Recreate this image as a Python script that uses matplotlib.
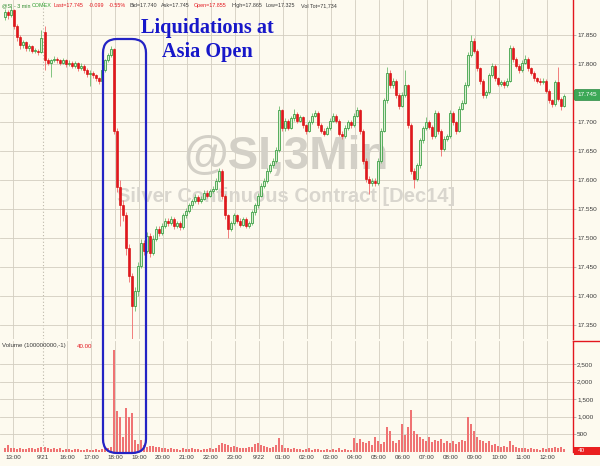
import numpy as np
import matplotlib
matplotlib.use('Agg')
import matplotlib.pyplot as plt
from matplotlib.patches import FancyBboxPatch
from matplotlib.lines import Line2D
from matplotlib.transforms import IdentityTransform

# @SI 3 min chart, bars shown every 7.5 min
# prices are thousandths above 17.000

fri_open0 = 880
fri_close = [889, 885, 892, 866, 847, 832, 837, 828, 830, 822, 823, 820, 844]
fri_high = [895, 893, 898, 894, 869, 850, 841, 840, 834, 833, 827, 826, 858]
fri_low = [876, 878, 880, 860, 840, 826, 828, 823, 822, 818, 818, 815, 818]
fri_vol = [110, 185, 120, 100, 90, 110, 80, 90, 100, 120, 90, 100, 140]

sun_open0 = 855
sun_close = [806, 802, 806, 809, 806, 802, 806, 799, 802, 796,
             801, 792, 797, 789, 782, 785, 780, 775, 771, 789,
             806, 815, 825, 685, 587, 556, 539, 482, 435, 383,
             409, 452, 492, 478, 504, 475, 499, 516, 509, 521,
             530, 526, 533, 521, 526, 519, 539, 547, 556, 564,
             571, 564, 568, 578, 573, 581, 585, 599, 616, 573,
             539, 516, 526, 539, 530, 523, 533, 521, 526, 544,
             556, 573, 590, 599, 616, 625, 633, 651, 720, 689,
             702, 690, 706, 714, 702, 708, 694, 685, 699, 711,
             716, 694, 685, 680, 689, 702, 711, 702, 680, 676,
             690, 699, 694, 711, 720, 685, 633, 602, 594, 599,
             595, 633, 685, 737, 785, 763, 771, 746, 728, 746,
             763, 694, 616, 602, 625, 668, 689, 699, 692, 676,
             716, 685, 654, 671, 676, 716, 699, 685, 723, 733,
             763, 815, 840, 823, 792, 771, 746, 751, 780, 797,
             775, 765, 768, 763, 771, 827, 809, 797, 789, 802,
             809, 792, 784, 775, 771, 768, 771, 754, 737, 731,
             768, 740, 728, 745]
sun_high = [866, 810, 809, 813, 812, 809, 810, 809, 806, 805,
            805, 804, 801, 800, 792, 789, 788, 783, 778, 792,
            809, 819, 830, 828, 690, 600, 565, 545, 490, 440,
            415, 458, 498, 496, 510, 508, 505, 521, 520, 526,
            535, 534, 538, 536, 530, 529, 543, 551, 560, 568,
            576, 574, 572, 582, 582, 585, 590, 603, 620, 619,
            576, 542, 530, 543, 542, 534, 537, 536, 530, 548,
            560, 577, 594, 604, 620, 630, 638, 656, 728, 723,
            707, 705, 710, 723, 717, 712, 711, 697, 703, 715,
            721, 719, 698, 689, 693, 706, 716, 714, 705, 684,
            694, 703, 703, 715, 725, 723, 688, 637, 606, 604,
            603, 638, 690, 742, 794, 789, 776, 774, 749, 751,
            789, 766, 698, 620, 630, 672, 693, 708, 703, 695,
            720, 719, 688, 675, 680, 720, 719, 702, 727, 738,
            768, 820, 849, 845, 826, 795, 774, 755, 784, 802,
            800, 778, 772, 772, 775, 832, 830, 812, 800, 806,
            815, 812, 795, 787, 778, 775, 775, 774, 757, 740,
            772, 794, 743, 748]
sun_low = [790, 798, 777, 803, 802, 798, 799, 795, 796, 792,
           793, 788, 789, 785, 778, 761, 776, 771, 766, 768,
           786, 803, 812, 680, 580, 521, 530, 470, 425, 325,
           375, 400, 448, 470, 474, 468, 470, 495, 504, 505,
           517, 520, 522, 516, 517, 514, 516, 535, 543, 552,
           560, 559, 560, 565, 569, 570, 577, 582, 596, 568,
           533, 500, 512, 522, 526, 519, 520, 517, 517, 523,
           540, 552, 570, 586, 595, 612, 620, 630, 648, 684,
           685, 686, 687, 702, 698, 699, 690, 680, 682, 696,
           708, 690, 681, 676, 677, 686, 699, 698, 675, 671,
           673, 686, 690, 691, 708, 680, 628, 597, 576, 590,
           590, 592, 630, 682, 733, 758, 759, 741, 723, 725,
           743, 690, 610, 586, 598, 621, 664, 686, 688, 671,
           673, 680, 642, 650, 667, 673, 695, 680, 682, 720,
           730, 760, 812, 818, 787, 766, 741, 742, 748, 777,
           770, 761, 761, 759, 760, 768, 804, 792, 785, 786,
           799, 788, 780, 771, 767, 764, 765, 750, 732, 726,
           728, 736, 720, 725]
sun_vol = [150, 120, 90, 100, 80, 100, 70, 90, 80, 70,
           90, 80, 70, 60, 80, 70, 60, 80, 70, 90,
           100, 120, 150, 2900, 1150, 1000, 420, 1240, 1000, 1100,
           330, 240, 330, 200, 150, 170, 160, 140, 130, 110,
           100, 90, 100, 80, 90, 70, 100, 90, 80, 100,
           90, 80, 70, 90, 80, 100, 90, 120, 200, 250,
           220, 190, 150, 170, 140, 120, 110, 100, 130, 150,
           220, 250, 200, 170, 140, 120, 130, 200, 390, 200,
           120, 100, 90, 110, 80, 90, 70, 80, 100, 70,
           80, 90, 70, 60, 80, 70, 90, 60, 120, 70,
           80, 60, 70, 390, 250, 370, 280, 250, 300, 200,
           420, 300, 220, 280, 700, 600, 300, 250, 350, 800,
           480, 700, 1200, 600, 500, 420, 380, 300, 420, 280,
           350, 300, 380, 260, 300, 250, 300, 220, 280, 350,
           300, 1000, 800, 600, 420, 350, 300, 250, 300, 200,
           220, 180, 150, 170, 130, 300, 200, 150, 120, 100,
           120, 90, 100, 80, 90, 70, 100, 80, 120, 100,
           150, 120, 140, 90]

price_ticks = [17.35, 17.40, 17.45, 17.50, 17.55, 17.60, 17.65, 17.70, 17.75, 17.80, 17.85]
vol_ticks = [500, 1000, 1500, 2000, 2500]
last_price = 17.745
last_vol = 40

# time axis: Friday 13:00 = 0, Sunday 16:00 = 2.25 (weekend gap removed)
step = 7.5 / 60
fri_t = 12 + 40 / 60 + step * np.arange(len(fri_close))
sun_t = 15 + 5 / 60 + step * np.arange(len(sun_close))
x = np.r_[fri_t - 13, sun_t - 16 + 2.25]

close = 17 + np.array(fri_close + sun_close) / 1000
opn = 17 + np.array([fri_open0] + fri_close[:-1] + [sun_open0] + sun_close[:-1]) / 1000
high = 17 + np.array(fri_high + sun_high) / 1000
low = 17 + np.array(fri_low + sun_low) / 1000
vol = np.array(fri_vol + sun_vol)

tick_hours = list(range(16, 37))
tick_x = [0] + [h - 16 + 2.25 for h in tick_hours]
tick_lab = ['13:00'] + ['9/22' if h == 24 else '%02d:00' % (h % 24) for h in tick_hours]
break_x = (x[len(fri_close) - 1] + x[len(fri_close)]) / 2

bg = '#fdfaef'
gridc = '#d2cdc0'
red = '#e3161e'
green = '#2f9a3a'
txt = '#3a3a3a'
font = 'Liberation Sans'

fig = plt.figure(figsize=(6, 4.66), dpi=100)
fig.patch.set_facecolor(bg)
W, H = 600, 466
ax = fig.add_axes([0, 1 - 339 / H, 573 / W, 339 / H])
axv = fig.add_axes([0, 1 - 452 / H, 573 / W, 111 / H])

xlim = (-13 / 24, 560 / 24)
for a in (ax, axv):
    a.set_facecolor(bg)
    a.set_xlim(*xlim)
    for s in ('left', 'top', 'bottom'):
        a.spines[s].set_visible(False)
    a.spines['right'].set_color(red)
    a.spines['right'].set_linewidth(1.0)
    a.yaxis.tick_right()
    a.tick_params(axis='y', length=2, width=0.5, color='#999999', pad=1,
                  labelsize=4.6, labelcolor=txt)
    for xx in tick_x:
        a.axvline(xx, color=gridc, lw=0.6, zorder=0.5)
    a.axvline(break_x, color='#bdb8aa', lw=0.8, ls=(0, (1, 2)), zorder=0.5)

# price panel
ax.set_ylim(17.326, 17.910)
ax.set_yticks(price_ticks)
# the 17.750 label sits under the last-price marker
ax.set_yticklabels(['' if abs(p - last_price) < 0.01 else '%.3f' % p for p in price_ticks],
                   family=font)
ax.set_xticks([])
for p in price_ticks:
    ax.axhline(p, color=gridc, lw=0.6, zorder=0.5)

ax.text(0.5, 0.537, '@SI,3Min', transform=ax.transAxes, ha='center', va='center',
        fontsize=33, fontweight='bold', family=font, color='#d3d0c7', zorder=1)
ax.text(0.5, 0.419, 'Silver Continuous Contract [Dec14]', transform=ax.transAxes,
        ha='center', va='center', fontsize=14.5, fontweight='bold', family=font,
        color='#d9d6ce', zorder=1)

up = close >= opn
w = step * 0.62
wick_col = np.where(up, '#6dbb6d', '#f06a6a')
ax.vlines(x, low, high, colors=wick_col, lw=0.6, zorder=2)
body_lo = np.minimum(opn, close)
body_h = np.maximum(np.abs(close - opn), 0.0015)
ax.bar(x[up], body_h[up], w, bottom=body_lo[up], facecolor='#d8eecf',
       edgecolor=green, lw=0.55, zorder=3)
ax.bar(x[~up], body_h[~up], w, bottom=body_lo[~up], facecolor=red,
       edgecolor='#d40000', lw=0.4, zorder=3)

# volume panel
axv.set_ylim(0, 3150)
axv.bar(x, vol, step * 0.95, color='#ef7373', edgecolor='none', zorder=2)
axv.set_yticks(vol_ticks)
axv.set_yticklabels(['{:,}'.format(v) for v in vol_ticks], family=font)
for v in vol_ticks:
    axv.axhline(v, color=gridc, lw=0.6, zorder=0.5)
axv.set_xticks([0, break_x] + tick_x[1:])
axv.set_xticklabels(['13:00', '9/21'] + tick_lab[1:], family=font)
axv.tick_params(axis='x', length=0, pad=2.5, labelsize=4.5, labelcolor=txt)

# header line
hy = 1 - 5.5 / H
header = [(2, '@SI - 3 min', '#2b8a2b'), (32, 'COMEX', '#2e9e2e'),
          (54, 'Last=17.745', red), (89, '-0.099', red), (109, '-0.55%', red),
          (130, 'Bid=17.740', txt), (161, 'Ask=17.745', txt),
          (194, 'Open=17.855', red), (231, 'High=17.865', txt),
          (266, 'Low=17.325', txt), (301, 'Vol Tot=71,734', txt)]
for px, s, c in header:
    fig.text(px / W, hy, s, fontsize=3.9, family=font, color=c, va='center', ha='left')

fig.text(2 / W, 1 - 346 / H, 'Volume (100000000,-1)', fontsize=4.4, family=font,
         color=txt, va='center')
fig.text(77 / W, 1 - 346 / H, '40.00', fontsize=4.4, family=font, color=red, va='center')

# annotation
fig.text(207 / W, 1 - 40 / H, 'Liquidations at\nAsia Open', ha='center', va='center',
         multialignment='center', family='Liberation Serif', fontweight='bold',
         fontsize=14.6, color='#1717c9', linespacing=1.3)
pix = IdentityTransform()
fig.add_artist(FancyBboxPatch((103, H - 453), 43, 414,
                              boxstyle='round,pad=0,rounding_size=14',
                              transform=pix, fill=False, edgecolor='#2323c4', lw=1.6,
                              zorder=10))

# right axis markers
fig.add_artist(Line2D([573, 600], [H - 341, H - 341], transform=pix, color=red, lw=1))
fig.add_artist(FancyBboxPatch((574, H - 100.5), 27, 11, boxstyle='round,pad=0,rounding_size=2',
                              transform=pix, facecolor='#3ba856', edgecolor='#2d8a45',
                              lw=0.5, zorder=10))
fig.text(577 / W, 1 - 95 / H, '%.3f' % last_price, fontsize=4.6, family=font,
         color='white', va='center', zorder=11)
fig.add_artist(FancyBboxPatch((574, H - 455), 27, 8, boxstyle='square,pad=0',
                              transform=pix, facecolor='#ea2020', edgecolor='none', zorder=10))
fig.text(578 / W, 1 - 451 / H, str(last_vol), fontsize=4.6, family=font, color='white',
         va='center', zorder=11)

fig.savefig('out.png', dpi=100, facecolor=bg)
